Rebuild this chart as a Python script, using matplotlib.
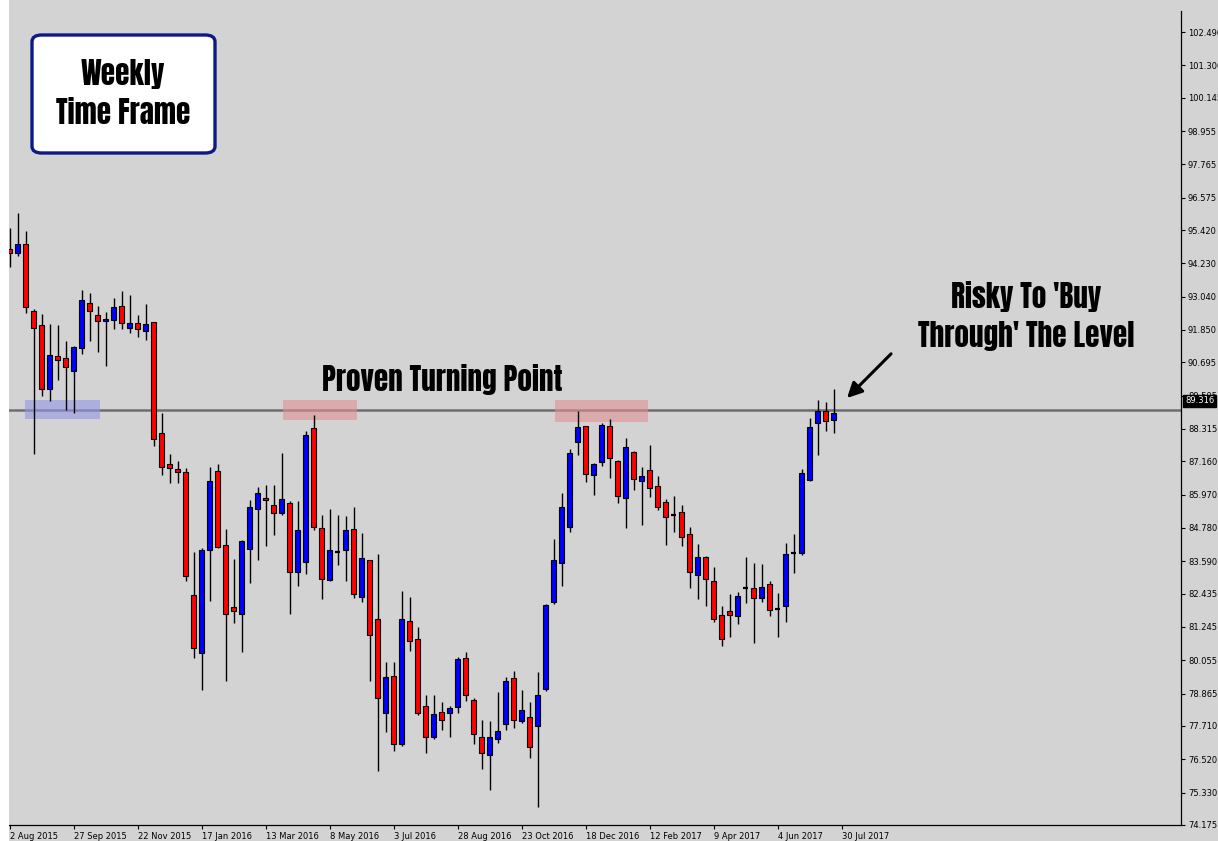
import matplotlib.pyplot as plt
from matplotlib.patches import Rectangle, FancyBboxPatch

# weekly OHLC, one bar per week starting 2 Aug 2015
opens = [94.73, 94.59, 94.91, 92.52, 92.02, 89.74, 90.91, 90.84, 90.40, 91.22,
         92.81, 92.38, 92.16, 92.20, 92.70, 91.91, 92.09, 91.81, 92.13, 88.16,
         87.06, 86.88, 86.77, 82.38, 80.30, 83.99, 86.81, 84.17, 81.95, 81.70,
         84.04, 85.45, 85.84, 85.59, 85.33, 85.67, 83.20, 83.56, 88.34, 84.77,
         82.92, 83.94, 83.99, 84.74, 82.31, 83.62, 81.52, 78.17, 79.49, 77.08,
         81.45, 80.81, 78.42, 77.33, 78.20, 78.17, 78.38, 80.13, 78.63, 77.33,
         76.69, 77.26, 77.78, 79.42, 77.88, 78.03, 77.70, 79.03, 82.12, 83.54,
         84.83, 87.86, 88.41, 86.66, 87.13, 88.41, 87.17, 85.84, 87.49, 86.45,
         86.84, 86.27, 85.70, 85.26, 85.34, 84.56, 83.09, 83.74, 82.88, 81.67,
         81.81, 81.63, 82.63, 82.63, 82.27, 82.77, 81.87, 82.01, 83.87, 83.90,
         86.51, 88.52, 88.95, 88.63]
highs = [95.48, 96.02, 95.39, 92.59, 92.41, 92.06, 92.02, 91.46, 91.29, 93.28,
         93.17, 92.71, 92.50, 92.99, 93.24, 93.10, 92.38, 92.78, 92.15, 88.88,
         87.43, 87.17, 86.91, 83.92, 84.06, 86.95, 87.06, 84.74, 83.67, 84.36,
         85.77, 86.24, 86.31, 86.31, 87.45, 85.76, 85.74, 88.24, 88.82, 85.24,
         85.46, 85.25, 85.21, 85.53, 84.61, 83.64, 83.86, 80.00, 80.00, 82.53,
         82.32, 81.25, 78.82, 78.82, 78.57, 78.43, 80.18, 80.36, 78.70, 77.93,
         77.89, 78.93, 79.45, 79.67, 79.00, 78.57, 79.64, 82.06, 84.39, 86.03,
         87.60, 88.94, 88.43, 87.10, 88.53, 88.68, 87.19, 88.00, 87.53, 86.96,
         87.75, 86.64, 85.83, 85.92, 85.60, 84.82, 84.21, 83.78, 83.38, 82.00,
         82.42, 82.49, 83.74, 83.53, 83.50, 82.88, 82.45, 84.24, 84.57, 86.88,
         88.70, 89.34, 89.28, 89.74]
lows = [94.11, 94.50, 92.45, 87.43, 89.50, 89.33, 90.07, 89.00, 88.88, 91.00,
        91.47, 91.07, 90.58, 91.90, 91.90, 91.76, 91.61, 91.51, 87.72, 86.68,
        86.37, 86.37, 82.90, 80.15, 78.98, 82.19, 84.05, 79.30, 81.37, 80.37,
        82.80, 83.65, 84.15, 84.54, 85.26, 81.72, 82.72, 83.12, 84.72, 82.26,
        82.90, 83.47, 82.90, 82.27, 82.12, 79.33, 76.12, 77.48, 76.80, 77.01,
        80.40, 78.12, 76.76, 77.26, 77.58, 77.33, 78.19, 78.62, 77.05, 76.17,
        75.41, 77.12, 77.58, 77.63, 77.81, 76.55, 74.83, 78.95, 82.05, 82.72,
        84.62, 87.40, 86.44, 85.97, 87.01, 86.58, 85.69, 84.79, 86.12, 84.87,
        85.90, 85.44, 84.19, 84.65, 84.15, 82.65, 82.26, 82.01, 81.44, 80.58,
        80.87, 81.35, 82.10, 80.67, 82.15, 81.62, 80.87, 81.42, 83.19, 83.80,
        86.47, 87.40, 88.26, 88.16]
closes = [94.59, 94.91, 92.68, 91.91, 89.74, 90.95, 90.77, 90.54, 91.25, 92.91,
          92.52, 92.16, 92.23, 92.66, 92.09, 92.09, 91.88, 92.06, 87.95, 86.95,
          86.91, 86.77, 83.06, 80.51, 83.99, 86.45, 84.09, 81.72, 81.83, 84.33,
          85.52, 86.02, 85.77, 85.31, 85.81, 83.20, 84.70, 88.09, 84.81, 82.95,
          83.99, 83.96, 84.70, 82.42, 83.70, 80.95, 78.70, 79.45, 77.06, 81.52,
          80.74, 78.17, 77.31, 78.13, 77.92, 78.35, 80.11, 78.81, 77.44, 76.73,
          77.33, 77.53, 79.31, 77.92, 78.28, 76.95, 78.81, 82.02, 83.63, 85.52,
          87.45, 88.38, 86.70, 87.06, 88.45, 87.27, 85.92, 87.66, 86.52, 86.63,
          86.20, 85.52, 85.17, 85.25, 84.45, 83.20, 83.74, 82.95, 81.52, 80.81,
          81.67, 82.35, 82.64, 82.27, 82.67, 81.85, 81.86, 83.84, 83.88, 86.74,
          88.38, 88.95, 88.59, 88.88]

date_labels = ['2 Aug 2015', '27 Sep 2015', '22 Nov 2015', '17 Jan 2016', '13 Mar 2016',
               '8 May 2016', '3 Jul 2016', '28 Aug 2016', '23 Oct 2016', '18 Dec 2016',
               '12 Feb 2017', '9 Apr 2017', '4 Jun 2017', '30 Jul 2017']
price_ticks = [102.490, 101.300, 100.145, 98.955, 97.765, 96.575, 95.420, 94.230,
               93.040, 91.850, 90.695, 89.505, 88.315, 87.160, 85.970, 84.780,
               83.590, 82.435, 81.245, 80.055, 78.865, 77.710, 76.520, 75.330, 74.175]

level = 88.98
last_price = 89.316

bg = '#d3d3d3'
W, H = 1218, 841
fig = plt.figure(figsize=(W / 100, H / 100), dpi=100, facecolor=bg)
ax = fig.add_axes([8.7 / W, 1 - 825 / H, (1181 - 8.7) / W, (825 - 11) / H])
ax.set_facecolor(bg)
fig.patches.append(Rectangle((0, 0), 8.7 / W, 1, transform=fig.transFigure,
                             facecolor='white', edgecolor='none', zorder=0))

# candles
idx = list(range(len(opens)))
ax.vlines(idx, lows, highs, color='black', lw=1.0, zorder=2)
for i in idx:
    o, c = opens[i], closes[i]
    if abs(c - o) < 0.03:
        ax.hlines(o, i - 0.32, i + 0.32, color='black', lw=1.6, zorder=3)
        continue
    col = 'blue' if c > o else 'red'
    ax.bar(i, abs(c - o), bottom=min(o, c), width=0.62, color=col,
           edgecolor='black', linewidth=0.8, zorder=3)

# support / resistance level and zones
ax.axhline(level, color='#6e6e6e', lw=1.8, zorder=1.5)
ax.add_patch(Rectangle((1.9, 88.68), 9.35, 0.67, facecolor='#9297e5',
                       edgecolor='none', alpha=0.6, zorder=1.8))
ax.add_patch(Rectangle((34.1, 88.62), 9.3, 0.73, facecolor='#e08f92',
                       edgecolor='none', alpha=0.6, zorder=1.8))
ax.add_patch(Rectangle((68.1, 88.58), 11.7, 0.77, facecolor='#e08f92',
                       edgecolor='none', alpha=0.6, zorder=1.8))

ax.set_xlim(-0.16, 146.4)
ax.set_ylim(74.18, 103.24)

for s in ['left', 'top']:
    ax.spines[s].set_visible(False)
for s in ['right', 'bottom']:
    ax.spines[s].set_linewidth(0.9)
    ax.spines[s].set_color('black')

ax.yaxis.tick_right()
ax.set_yticks(price_ticks)
ax.set_yticklabels(['%.3f' % p for p in price_ticks])
ax.set_xticks(range(0, 8 * len(date_labels), 8))
ax.set_xticklabels(date_labels, ha='left')
ax.tick_params(axis='both', direction='out', length=3, width=0.8, colors='black',
               labelsize=6, pad=2)

ax.annotate('%.3f' % last_price, xy=(1.0, last_price), xycoords=('axes fraction', 'data'),
            xytext=(4, 0), textcoords='offset pixels', ha='left', va='center',
            fontsize=6, color='white', zorder=10, annotation_clip=False,
            bbox=dict(boxstyle='square,pad=0.2', facecolor='black', edgecolor='black'))

big = dict(family=['Anton', 'DejaVu Sans'], color='black', ha='center', va='center')

# title box
fig.patches.append(FancyBboxPatch((32 / W, 1 - 153 / H), 183 / W, 118 / H,
                                  boxstyle='round,pad=0,rounding_size=0.008',
                                  transform=fig.transFigure, facecolor='white',
                                  edgecolor='#0b1a86', linewidth=2.4, zorder=5))
fig.text(123 / W, 1 - 74 / H, 'Weekly', fontsize=21, zorder=6, **big)
fig.text(123 / W, 1 - 113 / H, 'Time Frame', fontsize=21, zorder=6, **big)

ax.text(54.1, 90.10, 'Proven Turning Point', fontsize=21, zorder=6, **big)
ax.text(127.0, 93.03, "Risky To 'Buy", fontsize=21, zorder=6, **big)
ax.text(127.0, 91.64, "Through' The Level", fontsize=21, zorder=6, **big)
ax.annotate('', xy=(104.4, 89.35), xytext=(110.4, 91.07),
            arrowprops=dict(arrowstyle='-|>,head_length=0.9,head_width=0.45',
                            color='black', lw=2.2), zorder=6)

fig.savefig('out.png', dpi=100, facecolor=bg)
